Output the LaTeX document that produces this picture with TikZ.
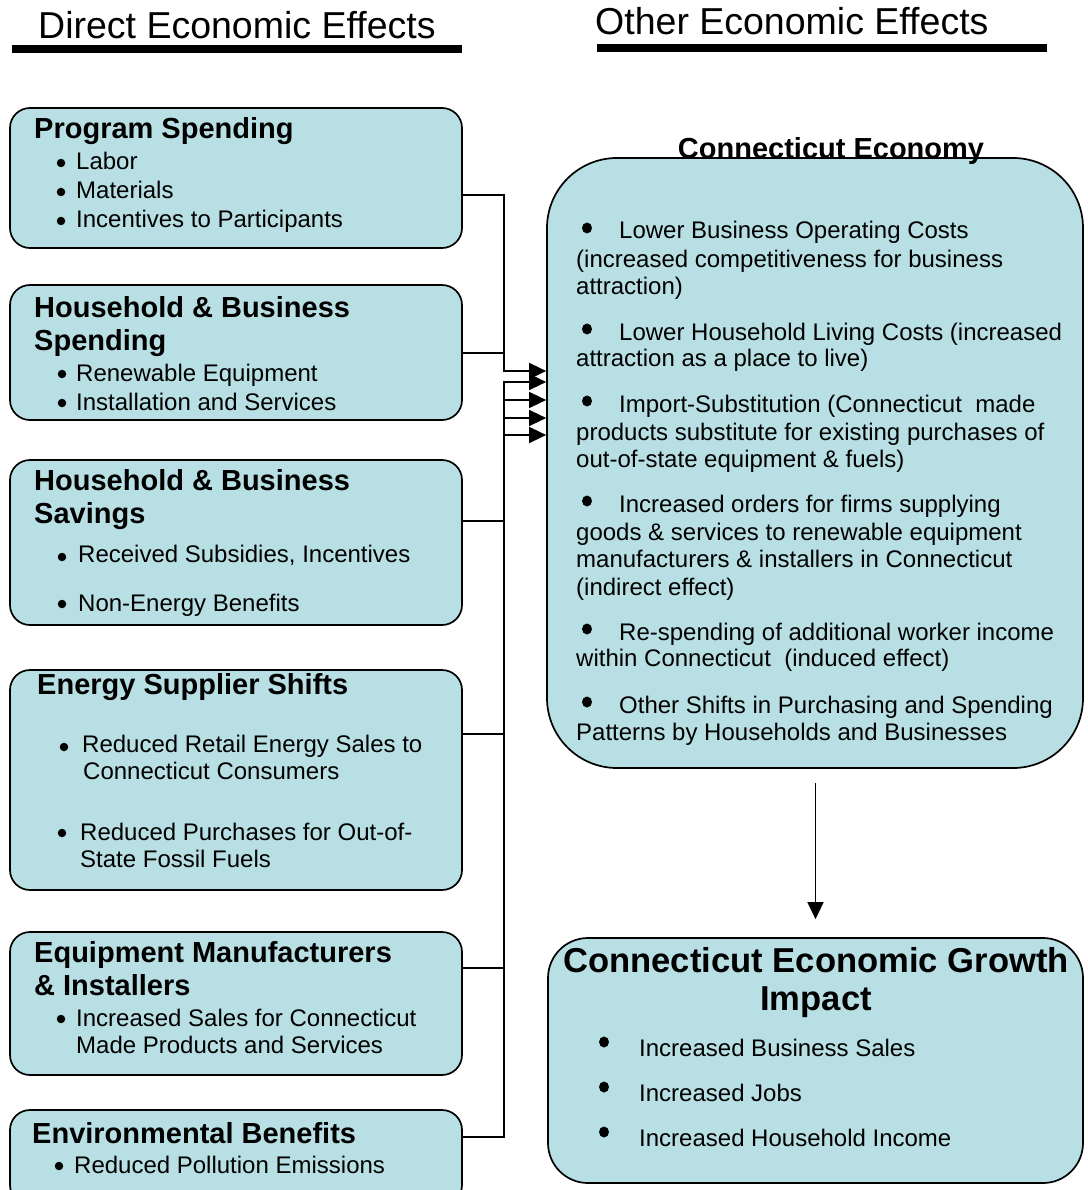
\documentclass[tikz,border=0pt]{standalone}
\usepackage{fontspec}
\setmainfont{Liberation Sans}
\usetikzlibrary{arrows.meta,shapes.geometric}
\definecolor{boxblue}{RGB}{184,224,228}
\begin{document}
\begin{tikzpicture}[x=1pt,y=-1pt,
  lbox/.style={draw=black, line width=1.7pt, fill=boxblue, rounded corners=20pt, inner sep=0pt},
  cebox/.style={draw=black, line width=1.7pt, fill=boxblue, rounded corners=70pt, inner sep=0pt},
  grbox/.style={draw=black, line width=1.7pt, fill=boxblue, rounded corners=40pt, inner sep=0pt},
  txt/.style={anchor=base west, inner sep=0pt, font=\fontsize{24}{28}\selectfont},
  ttl/.style={anchor=base west, inner sep=0pt, font=\bfseries\fontsize{29}{33}\selectfont},
  ctl/.style={anchor=base, inner sep=0pt, font=\bfseries\fontsize{29}{33}\selectfont},
  gtl/.style={anchor=base, inner sep=0pt, font=\bfseries\fontsize{34.6}{38}\selectfont},
  bul/.style={circle, fill=black, inner sep=0pt, minimum size=8.5pt},
  bigbul/.style={ellipse, fill=black, inner sep=0pt, minimum width=10pt, minimum height=11pt},
  hdr/.style={anchor=base west, inner sep=0pt, font=\fontsize{37.5}{40}\selectfont},
  conn/.style={line width=1.5pt},
  arr/.style={conn, -{Triangle[length=17pt,width=16pt]}}
]
\useasboundingbox (0,0) rectangle (1087,1190);

% headers
\node[hdr] (h1) at (38,39) {Direct Economic Effects};
\node[hdr] (h2) at (595,35) {Other Economic Effects};
\fill (12,45) rectangle (462,53);
\fill (597,44) rectangle (1047,52);

% left boxes
\node[lbox, minimum width=452pt, minimum height=140pt] (b1) at (236,178) {};
\node[lbox, minimum width=452pt, minimum height=135pt] (b2) at (236,352.5) {};
\node[lbox, minimum width=452pt, minimum height=165pt] (b3) at (236,542.5) {};
\node[lbox, minimum width=452pt, minimum height=220pt] (b4) at (236,780) {};
\node[lbox, minimum width=452pt, minimum height=143pt] (b5) at (236,1003.5) {};
\node[lbox, minimum width=452pt, minimum height=95pt] (b6) at (236,1157.5) {};

% right boxes
\node[cebox, minimum width=536pt, minimum height=610pt] (ce) at (815,463) {};
\node[grbox, minimum width=535pt, minimum height=245pt] (gr) at (815.5,1060.5) {};

% box 1
\node[ttl] (b1t) at (34,139) {Program Spending};
\node[bul] (b1d1) at (61,163) {};
\node[txt] (b1l1) at (76,170) {Labor};
\node[bul] (b1d2) at (61,192) {};
\node[txt] (b1l2) at (76,199) {Materials};
\node[bul] (b1d3) at (61,221) {};
\node[txt] (b1l3) at (76,228) {Incentives to Participants};

% box 2
\node[ttl] (b2t1) at (34,317) {Household \& Business};
\node[ttl] (b2t2) at (34,350) {Spending};
\node[bul] (b2d1) at (62,374) {};
\node[txt] (b2l1) at (76,381) {Renewable Equipment};
\node[bul] (b2d2) at (62,403) {};
\node[txt] (b2l2) at (76,410) {Installation and Services};

% box 3
\node[ttl] (b3t1) at (34,490) {Household \& Business};
\node[ttl] (b3t2) at (34,523) {Savings};
\node[bul] (b3d1) at (62,557) {};
\node[txt] (b3l1) at (78,562) {Received Subsidies, Incentives};
\node[bul] (b3d2) at (62,604) {};
\node[txt] (b3l2) at (78,611) {Non-Energy Benefits};

% box 4
\node[ttl] (b4t) at (37,694) {Energy Supplier Shifts};
\node[bul] (b4d1) at (64,747) {};
\node[txt] (b4l1) at (82,752) {Reduced Retail Energy Sales to};
\node[txt] (b4l2) at (83,779) {Connecticut Consumers};
\node[bul] (b4d2) at (62,833) {};
\node[txt] (b4l3) at (80,840) {Reduced Purchases for Out-of-};
\node[txt] (b4l4) at (80,867) {State Fossil Fuels};

% box 5
\node[ttl] (b5t1) at (34,962) {Equipment Manufacturers};
\node[ttl] (b5t2) at (34,995) {\& Installers};
\node[bul] (b5d1) at (61,1019) {};
\node[txt] (b5l1) at (76,1026) {Increased Sales for Connecticut};
\node[txt] (b5l2) at (76,1053) {Made Products and Services};

% box 6
\node[ttl] (b6t) at (32,1143) {Environmental Benefits};
\node[bul] (b6d1) at (59,1166) {};
\node[txt] (b6l1) at (74,1173) {Reduced Pollution Emissions};

% Connecticut Economy
\node[ctl] (cet) at (831,159) {Connecticut Economy};
\node[bigbul] (ced1) at (587,228) {};
\node[txt] (cel1) at (619,239) {Lower Business Operating Costs};
\node[txt] (cel2) at (576,267) {(increased competitiveness for business};
\node[txt] (cel3) at (576,294) {attraction)};
\node[bigbul] (ced2) at (587,329) {};
\node[txt] (cel4) at (619,340) {Lower Household Living Costs (increased};
\node[txt] (cel5) at (576,366) {attraction as a place to live)};
\node[bigbul] (ced3) at (587,401) {};
\node[txt] (cel6) at (619,412) {Import-Substitution (Connecticut\ \ made};
\node[txt] (cel7) at (576,440) {products substitute for existing purchases of};
\node[txt] (cel8) at (576,467) {out-of-state equipment \& fuels)};
\node[bigbul] (ced4) at (587,501) {};
\node[txt] (cel9) at (619,512) {Increased orders for firms supplying};
\node[txt] (cel10) at (576,540) {goods \& services to renewable equipment};
\node[txt] (cel11) at (576,567) {manufacturers \& installers in Connecticut};
\node[txt] (cel12) at (576,595) {(indirect effect)};
\node[bigbul] (ced5) at (587,629) {};
\node[txt] (cel13) at (619,640) {Re-spending of additional worker income};
\node[txt] (cel14) at (576,666) {within Connecticut\ \ (induced effect)};
\node[bigbul] (ced6) at (587,702) {};
\node[txt] (cel15) at (619,713) {Other Shifts in Purchasing and Spending};
\node[txt] (cel16) at (576,740) {Patterns by Households and Businesses};

% Growth impact
\node[gtl] (grt1) at (816,972) {Connecticut Economic Growth};
\node[gtl] (grt2) at (816,1010) {Impact};
\node[bigbul] (grd1) at (604,1042) {};
\node[txt] (grl1) at (639,1056) {Increased Business Sales};
\node[bigbul] (grd2) at (604,1087) {};
\node[txt] (grl2) at (639,1101) {Increased Jobs};
\node[bigbul] (grd3) at (604,1132) {};
\node[txt] (grl3) at (639,1146) {Increased Household Income};

% connectors
\draw[arr] ([yshift=-17pt]b1.east) -| (504,371) -- ([yshift=92pt]ce.west);
\draw[conn] ([yshift=-0.5pt]b2.east) -- (504,353);
\draw[arr] ([yshift=21.5pt]b3.east) -| (504,435) -- ([yshift=28pt]ce.west);
\draw[arr] ([yshift=46pt]b4.east) -| (504,418) -- ([yshift=45pt]ce.west);
\draw[arr] ([yshift=35.5pt]b5.east) -| (504,400) -- ([yshift=63pt]ce.west);
\draw[arr] ([yshift=20.5pt]b6.east) -| (504,382) -- ([yshift=81pt]ce.west);
\draw[arr] ([xshift=0.5pt,yshift=-14pt]ce.south) -- ([yshift=18pt]gr.north);
\end{tikzpicture}
\end{document}
